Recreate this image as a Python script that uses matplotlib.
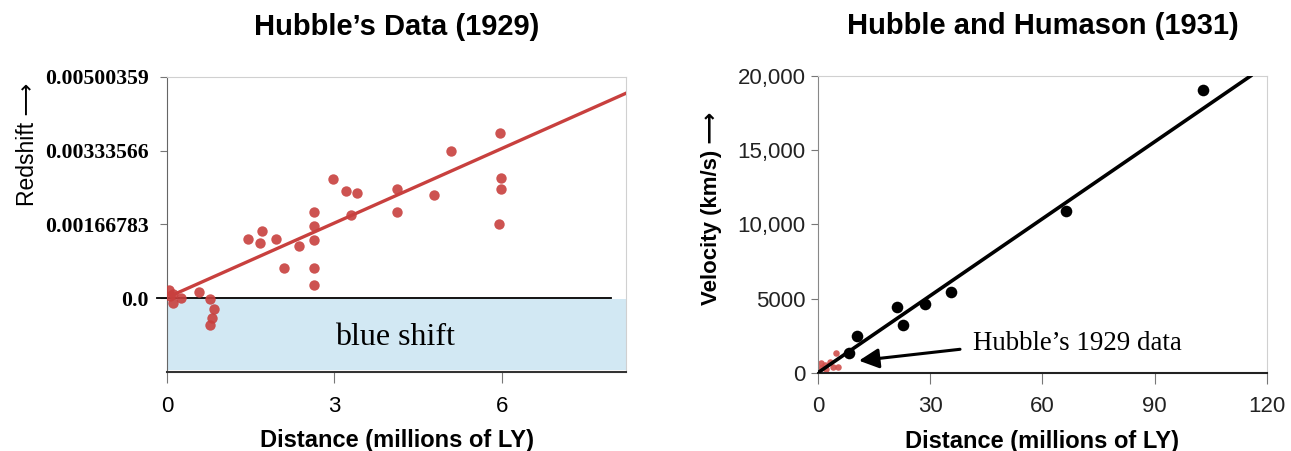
import matplotlib
matplotlib.use("Agg")
import matplotlib.pyplot as plt

# Hubble's 1929 points (distance in millions of LY, redshift)
hub_dist = [0.03, 0.10, 0.06, 0.25, 0.10, 0.58, 0.77, 0.84, 0.80, 0.78,
            1.46, 1.71, 1.67, 1.95, 2.10, 2.37, 2.63, 2.63, 2.63, 2.63, 2.63,
            2.98, 3.21, 3.40, 3.30, 4.12, 4.12, 4.79, 5.08, 5.96, 5.98, 5.98, 5.95]
hub_z = [0.00018, 0.00010, 0.00004, 0.0, -0.00011, 0.00014, -0.00002, -0.00025, -0.00044, -0.00060,
         0.00134, 0.00152, 0.00125, 0.00134, 0.00069, 0.00119, 0.00196, 0.00164, 0.00131, 0.00069, 0.00029,
         0.00269, 0.00243, 0.00238, 0.00189, 0.00247, 0.00196, 0.00233, 0.00334, 0.00373, 0.00272, 0.00248, 0.00167]
hub_fit_x = [0.1, 8.23]
hub_fit_z = [0.00007, 0.00464]
z_ticks = [0.0, 0.00166783, 0.00333566, 0.00500359]
z_labels = ["0.0", "0.00166783", "0.00333566", "0.00500359"]

# Hubble & Humason 1931 (distance in millions of LY, km/s)
hh_dist = [8.4, 10.5, 21.0, 22.7, 28.7, 35.5, 66.2, 102.8]
hh_vel = [1300, 2470, 4420, 3230, 4660, 5450, 10920, 19060]
old_dist = [4.9, 3.1, 0.9, 0.7, 2.2, 4.0, 5.4, 1.8]
old_vel = [1310, 740, 640, 300, 230, 400, 400, 520]
hh_fit_x = [0, 115.6]
hh_fit_v = [0, 20000]
v_ticks = [0, 5000, 10000, 15000, 20000]
v_labels = ["0", "5000", "10,000", "15,000", "20,000"]
d_ticks = [0, 30, 60, 90, 120]

red = "#c8403e"
sans = ["Liberation Sans", "DejaVu Sans"]
serif = ["Liberation Serif", "DejaVu Serif"]

fig = plt.figure(figsize=(12.91, 4.51), dpi=100)

# ---- left panel ----
ax1 = fig.add_axes([0.1293, 0.1752, 0.3559, 0.6541])
ax1.set_xlim(0, 8.23)
ax1.set_ylim(-0.00167, 0.00500359)
ax1.axhspan(-0.00162, -0.00002, color="#d2e8f3", zorder=0, lw=0)
ax1.plot([-0.17, 7.96], [0, 0], color="black", lw=1.3, clip_on=False, zorder=2)
ax1.plot(hub_fit_x, hub_fit_z, color=red, lw=2.4, zorder=3)
ax1.scatter(hub_dist, hub_z, s=56, color=red, alpha=0.9, lw=0, zorder=4)
ax1.text(4.09, -0.0009, "blue shift", family=serif, fontsize=23, ha="center", va="center")

for s in ["top", "right"]:
    ax1.spines[s].set_color("#d0d0d0")
ax1.spines["left"].set_color("#666666")
ax1.spines["bottom"].set_color("#333333")
ax1.spines["bottom"].set_linewidth(1.5)
ax1.set_xticks([0, 3, 6])
ax1.set_yticks(z_ticks)
ax1.set_yticklabels(z_labels, family=serif, fontweight="bold", fontsize=15.7)
ax1.tick_params(axis="x", length=8, color="#777777", labelsize=16, pad=9)
ax1.tick_params(axis="y", length=5, color="#777777", pad=8)
for lab in ax1.get_xticklabels():
    lab.set_family(sans)
ax1.set_xlabel("Distance (millions of LY)", family=sans, fontweight="bold", fontsize=17, labelpad=9)
ax1.set_title("Hubble\u2019s Data (1929)", family=sans, fontweight="bold", fontsize=21, pad=30)
fig.text(0.021, 0.68, "Redshift \u27f6", family=sans, fontsize=16.5, rotation=90, ha="center", va="center")

# ---- right panel ----
ax2 = fig.add_axes([0.6336, 0.1736, 0.3478, 0.6579])
ax2.set_xlim(0, 120)
ax2.set_ylim(0, 20000)
ax2.plot(hh_fit_x, hh_fit_v, color="black", lw=2.6, zorder=3)
ax2.scatter(old_dist, old_vel, s=22, color="#d0504c", lw=0, alpha=0.9, zorder=2)
ax2.scatter(hh_dist, hh_vel, s=70, color="black", lw=0, zorder=4)
ax2.annotate("", xy=(10.2, 790), xytext=(38.7, 1600),
             arrowprops=dict(arrowstyle="-|>", color="black", lw=2.2, mutation_scale=30))
ax2.text(41.3, 2000, "Hubble\u2019s 1929 data", family=serif, fontsize=19.4, ha="left", va="center")

for s in ["top", "right"]:
    ax2.spines[s].set_color("#d0d0d0")
ax2.spines["left"].set_color("#888888")
ax2.spines["bottom"].set_color("#222222")
ax2.spines["bottom"].set_linewidth(1.5)
ax2.set_xticks(d_ticks)
ax2.set_yticks(v_ticks)
ax2.set_yticklabels(v_labels)
ax2.tick_params(axis="x", length=8, color="#777777", labelsize=16, pad=9, labelcolor="#222222")
ax2.tick_params(axis="y", length=5, color="#777777", labelsize=16, pad=4, labelcolor="#222222")
for lab in ax2.get_xticklabels() + ax2.get_yticklabels():
    lab.set_family(sans)
ax2.set_xlabel("Distance (millions of LY)", family=sans, fontweight="bold", fontsize=17, labelpad=9)
ax2.set_title("Hubble and Humason (1931)", family=sans, fontweight="bold", fontsize=21, pad=30)
fig.text(0.551, 0.537, "Velocity (km/s) \u27f6", family=sans, fontweight="bold", fontsize=16,
         rotation=90, ha="center", va="center")

fig.savefig("out.png", dpi=100)
